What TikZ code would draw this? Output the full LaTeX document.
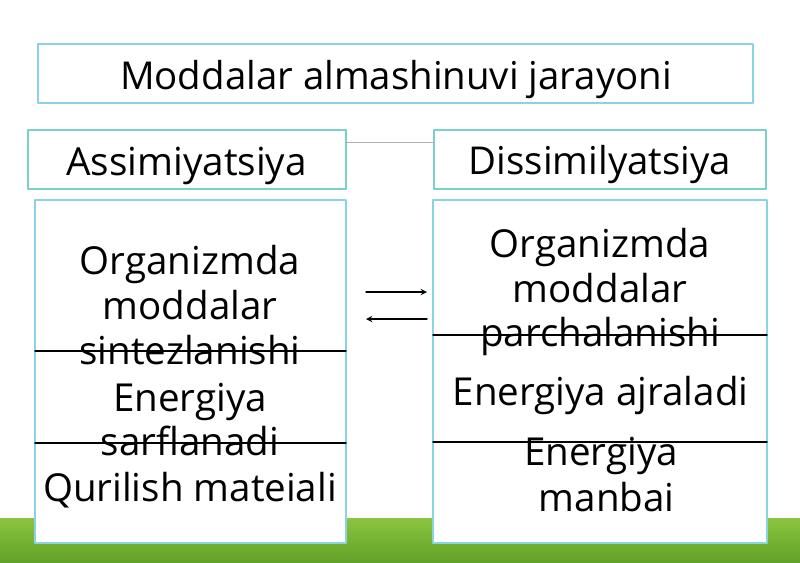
\documentclass[tikz,border=0pt]{standalone}
\usepackage{fontspec}
\setmainfont{Open Sans}
\definecolor{ramka}{RGB}{140,210,230}
\definecolor{ramkab}{RGB}{120,210,200}
\definecolor{yashil}{RGB}{96,162,40}
\definecolor{yashilt}{RGB}{140,196,64}
\begin{document}
\begin{tikzpicture}[x=0.025cm,y=-0.025cm,>=stealth, line join=round, line cap=round,
	quti/.style={draw=ramka, fill=white, line width=0.8pt},
	bosh/.style={draw=ramkab, fill=white, line width=0.8pt},
	katta/.style={font=\fontsize{27.3}{33}\selectfont, anchor=base},
	matn/.style={font=\fontsize{27.4}{31.7}\selectfont, align=center, inner sep=0pt, anchor=base}]
	\useasboundingbox (0,0) rectangle (800,562);
	\fill[white] (0,0) rectangle (800,562);
	\shade[top color=yashilt, bottom color=yashil] (0,518) rectangle (800,562); % yashil tasma
	% sarlavha
	\draw[quti] (38,44) rectangle (753,103);
	\node[katta] (sarlavha) at (396,89.3) {Moddalar almashinuvi jarayoni};
	% ustunlar boshi
	\draw[bosh] (28,130) rectangle (346,189);
	\draw[bosh] (434,130) rectangle (766,189);
	\draw[gray!60, line width=0.6pt] (346,142) -- (434,142);
	\node[katta, font=\fontsize{27.5}{33}\selectfont] (assim) at (186.5,175) {Assimiyatsiya};
	\node[katta] (dissim) at (600,174.3) {Dissimilyatsiya};
	% ustunlar
	\draw[quti] (35,200) rectangle (346,543);
	\draw[quti] (433,200) rectangle (767,543);
	\draw[line width=1pt] (35,351) -- (346,351);
	\draw[line width=1pt] (35,443) -- (346,443);
	\draw[line width=1pt] (433,335) -- (767,335);
	\draw[line width=1pt] (433,442) -- (767,442);
	% (at) = oxirgi qator
	\node[matn] (sintez) at (190,364) {Organizmda\\moddalar\\sintezlanishi};
	\node[matn, font=\fontsize{27.4}{31.3}\selectfont] (sarf) at (190,455) {Energiya\\sarflanadi};
	\node[matn] (qurilish) at (190,501.7) {Qurilish mateiali};
	\node[matn] (parcha) at (600,346.7) {Organizmda\\moddalar\\parchalanishi};
	\node[matn] (ajral) at (600.5,405) {Energiya ajraladi};
	\node[matn, font=\fontsize{27.4}{33.2}\selectfont] (manba) at (601,511.7) {Energiya\\\hspace*{8pt}manbai};
	% strelkalar
	\coordinate (s1) at (366,292);
	\coordinate (s2) at (427,292);
	\coordinate (s3) at (427,319);
	\coordinate (s4) at (366,319);
	\draw[->, line width=1pt] (s1) -- (s2);
	\draw[->, line width=1pt] (s3) -- (s4);
\end{tikzpicture}
\end{document}
